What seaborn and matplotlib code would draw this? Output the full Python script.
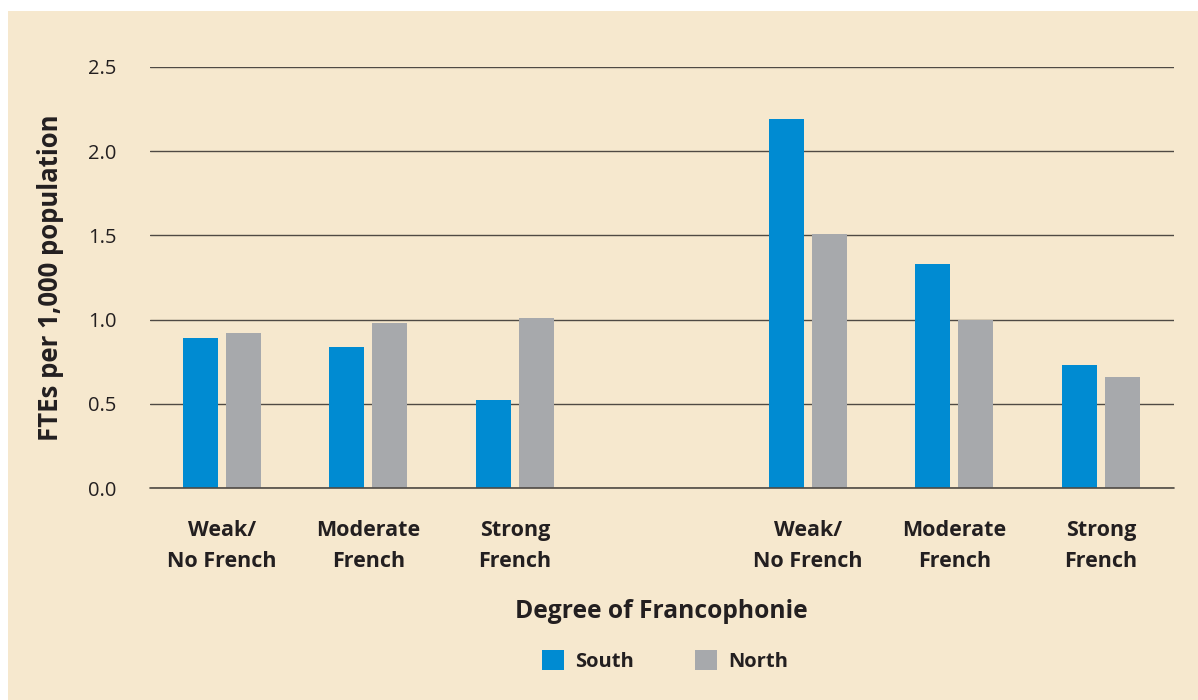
import matplotlib
matplotlib.use("Agg")
import matplotlib.pyplot as plt
import matplotlib.patches as mpatches
import seaborn as sns
import pandas as pd

# ---- data ----
slot_ids = ["weak_a", "mod_a", "strong_a", "spacer", "weak_b", "mod_b", "strong_b"]
tick_labels = ["Weak/\nNo French", "Moderate\nFrench", "Strong\nFrench", "",
               "Weak/\nNo French", "Moderate\nFrench", "Strong\nFrench"]
data_ids = ["weak_a", "mod_a", "strong_a", "weak_b", "mod_b", "strong_b"]
south = [0.89, 0.84, 0.52, 2.19, 1.33, 0.73]
north = [0.92, 0.98, 1.01, 1.51, 1.00, 0.66]
series = ["South", "North"]
colors = {"South": "#008BD2", "North": "#A7A9AC"}
yticks = [0.0, 0.5, 1.0, 1.5, 2.0, 2.5]

df = pd.DataFrame({
    "slot": data_ids * 2,
    "value": south + north,
    "region": ["South"] * len(south) + ["North"] * len(north),
})

sns.set_theme(style="white")
plt.rcParams["font.family"] = ["Open Sans", "DejaVu Sans"]
txt = "#231F20"
bg = "#F6E8CE"
gridc = "#4f4a44"

fig = plt.figure(figsize=(11.98, 7.0), dpi=100)
fig.patch.set_facecolor("white")
fig.patches.append(mpatches.Rectangle((8 / 1198, 0), 1 - 8 / 1198, 689 / 700,
                                      transform=fig.transFigure, facecolor=bg,
                                      edgecolor="none", zorder=-10))

ax = fig.add_axes([150 / 1198, 212 / 700, (1174 - 150) / 1198, (488 - 67) / 700])
ax.set_facecolor("none")

sns.barplot(data=df, x="slot", y="value", hue="region", order=slot_ids,
            hue_order=series, palette=colors, width=0.587, gap=0.186,
            saturation=1, ax=ax, legend=False, zorder=3,
            edgecolor="none", linewidth=0)

ax.set_ylim(0, 2.5)
ax.set_xlim(-0.49, 6.5)
ax.set_yticks(yticks)
ax.set_yticklabels([f"{v:.1f}" for v in yticks], fontsize=14.5, color=txt)
ax.set_xticks(range(len(slot_ids)))
ax.set_xticklabels(tick_labels, fontsize=15.5, fontweight="bold", color=txt,
                   linespacing=1.6)
ax.tick_params(axis="y", length=0, pad=24)
ax.tick_params(axis="x", length=0, pad=23)
for s in ax.spines.values():
    s.set_visible(False)
ax.yaxis.grid(True, color=gridc, linewidth=1.0, zorder=1)
ax.set_axisbelow(True)
ax.axhline(0, color=gridc, linewidth=1.2, zorder=4, clip_on=False)

ax.set_ylabel("FTEs per 1,000 population", fontsize=18.5, fontweight="bold",
              color=txt)
ax.yaxis.set_label_coords(-(150 - 64) / 1024, 0.5)
ax.set_xlabel("Degree of Francophonie", fontsize=17.7, fontweight="bold",
              color=txt, labelpad=0)
ax.xaxis.set_label_coords((661 - 150) / 1024, -(599 - 488) / 421)

handles = [mpatches.Patch(facecolor=colors[s], edgecolor="none", label=s) for s in series]
fig.legend(handles=handles, loc="center", bbox_to_anchor=(665 / 1198, 1 - 661 / 700),
           ncol=2, frameon=False, prop={"size": 14.5, "weight": "bold"},
           handlelength=1.1, handleheight=1.1, handletextpad=0.55,
           columnspacing=3.0, labelcolor=txt)

fig.savefig("out.png", dpi=100, facecolor="white")
